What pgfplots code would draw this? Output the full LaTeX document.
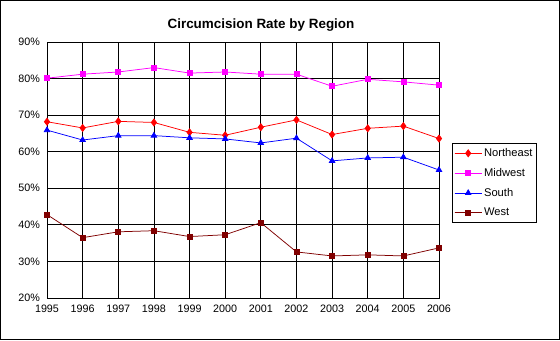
\documentclass[border=0pt]{standalone}
\usepackage{pgfplots}
\pgfplotsset{compat=1.18}
\usepackage{fontspec}
\setmainfont{Liberation Sans}
\definecolor{cNE}{HTML}{FF0000}
\definecolor{cMW}{HTML}{FF00FF}
\definecolor{cSO}{HTML}{0000FF}
\definecolor{cWE}{HTML}{800000}
\begin{document}
\begin{tikzpicture}[x=1bp,y=1bp]
\draw[black,line width=1bp,fill=white] (0.5,0.5) rectangle (559.5,339.5);
\node[font=\fontsize{13.5}{15}\selectfont\bfseries] at (261,314.5) {Circumcision Rate by Region};
\begin{axis}[
  at={(47bp,42bp)}, anchor=south west,
  scale only axis, width=392bp, height=256bp,
  xmin=1995, xmax=2006, ymin=20, ymax=90,
  xtick={1995,...,2006}, ytick={20,30,...,90},
  yticklabel={\pgfmathprintnumber{\tick}\%},
  /pgf/number format/assume math mode=true,
  x tick label style={/pgf/number format/1000 sep={}},
  tick label style={font=\fontsize{10.8}{12}\selectfont},
  major tick length=0pt,
  grid=both, grid style={black,line width=0.75bp},
  axis line style={black,line width=0.75bp},
  xticklabel style={yshift=-3.5bp},
  yticklabel style={xshift=-3.5bp},
  legend style={at={(1.033,0.605)}, anchor=north west, draw=black, line width=0.75bp,
    font=\fontsize{11.2}{13}\selectfont, inner xsep=2bp, inner ysep=3bp, row sep=6.3bp,
    legend cell align=left},
  every axis plot post/.append style={line width=0.75bp,
    legend image code/.code={\draw[##1] (0bp,0bp) -- (27bp,0bp); \draw[##1,mark repeat=2,mark phase=2] plot coordinates {(0bp,0bp) (13.5bp,0bp) (27bp,0bp)};}},
]
\addplot[cNE, mark=diamond*, mark size=3.5bp, mark options={solid}] coordinates {
(1995,68.2) (1996,66.5) (1997,68.3) (1998,68.0) (1999,65.3) (2000,64.5) (2001,66.7) (2002,68.7) (2003,64.7) (2004,66.4) (2005,67.0) (2006,63.6)};
\addlegendentry{Northeast}
\addplot[cMW, mark=square*, mark size=2.5bp] coordinates {
(1995,80.1) (1996,81.2) (1997,81.8) (1998,83.0) (1999,81.5) (2000,81.8) (2001,81.2) (2002,81.2) (2003,77.9) (2004,79.8) (2005,79.1) (2006,78.2)};
\addlegendentry{Midwest}
\addplot[cSO, mark=triangle*, mark size=3.2bp] coordinates {
(1995,65.9) (1996,63.2) (1997,64.4) (1998,64.4) (1999,63.8) (2000,63.5) (2001,62.4) (2002,63.7) (2003,57.5) (2004,58.3) (2005,58.5) (2006,55.0)};
\addlegendentry{South}
\addplot[cWE, mark=square*, mark size=2.5bp] coordinates {
(1995,42.8) (1996,36.5) (1997,38.1) (1998,38.4) (1999,36.8) (2000,37.3) (2001,40.6) (2002,32.6) (2003,31.5) (2004,31.8) (2005,31.5) (2006,33.7)};
\addlegendentry{West}
\end{axis}
\end{tikzpicture}
\end{document}
